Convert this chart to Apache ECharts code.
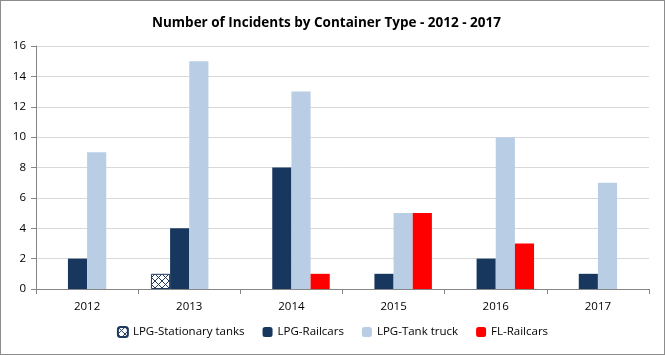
<!DOCTYPE html>
<html><head><meta charset="utf-8">
<script src="https://cdn.jsdelivr.net/npm/echarts@6/dist/echarts.min.js"></script>
<style>html,body{margin:0;padding:0;background:#fff}#c{width:663px;height:353px;border:1px solid #8c8c8c}</style>
</head><body><div id="c"></div>
<script>
const categories = ['2012','2013','2014','2015','2016','2017'];
const stationaryTanks = [0,1,0,0,0,0];
const lpgRailcars = [2,4,8,1,2,1];
const lpgTankTruck = [9,15,13,5,10,7];
const flRailcars = [0,0,1,5,3,0];
const yTicks = [0,2,4,6,8,10,12,14,16];

function hatch(){
  const c=document.createElement('canvas');c.width=7;c.height=7;
  const g=c.getContext('2d');g.fillStyle='#fff';g.fillRect(0,0,7,7);
  g.strokeStyle='#1f3a5f';g.lineWidth=1;
  g.beginPath();g.moveTo(0,0);g.lineTo(7,7);g.moveTo(7,0);g.lineTo(0,7);g.stroke();
  return c;
}
const font='"Open Sans", "DejaVu Sans", sans-serif';
const chart=echarts.init(document.getElementById('c'));
const nz=a=>a.map(v=>v===0?null:v);
chart.setOption({
  animation:false,
  title:{text:'Number of Incidents by Container Type - 2012 - 2017',left:146,top:10,
    textStyle:{fontFamily:font,fontSize:13.5,fontWeight:'bold',color:'#000'}},
  grid:{left:35,right:15,top:45,bottom:65},
  legend:{bottom:11,left:'center',itemWidth:10,itemHeight:10,itemGap:18,
    textStyle:{fontFamily:font,fontSize:11.5,color:'#000'},
    data:['LPG-Stationary tanks','LPG-Railcars','LPG-Tank truck','FL-Railcars']},
  xAxis:{type:'category',data:categories,
    axisLine:{lineStyle:{color:'#868686'}},
    axisTick:{show:true,length:5,lineStyle:{color:'#868686'}},
    axisLabel:{color:'#000',fontFamily:font,fontSize:11.5,margin:12}},
  yAxis:{type:'value',min:yTicks[0],max:yTicks[yTicks.length-1],interval:2,
    axisLine:{show:true,lineStyle:{color:'#868686'}},
    axisTick:{show:true,length:5,lineStyle:{color:'#868686'}},
    splitLine:{lineStyle:{color:'#d9d9d9'}},
    axisLabel:{color:'#000',fontFamily:font,fontSize:11.5,margin:10}},
  series:[
    {name:'LPG-Stationary tanks',type:'bar',data:nz(stationaryTanks),barGap:'0%',barCategoryGap:'25%',
      itemStyle:{color:{image:hatch(),repeat:'repeat'},borderColor:'#1f3a5f',borderWidth:1}},
    {name:'LPG-Railcars',type:'bar',data:lpgRailcars,itemStyle:{color:'#17375e'}},
    {name:'LPG-Tank truck',type:'bar',data:lpgTankTruck,itemStyle:{color:'#b9cde5'}},
    {name:'FL-Railcars',type:'bar',data:nz(flRailcars),itemStyle:{color:'#ff0000'}}
  ]
});
</script></body></html>
